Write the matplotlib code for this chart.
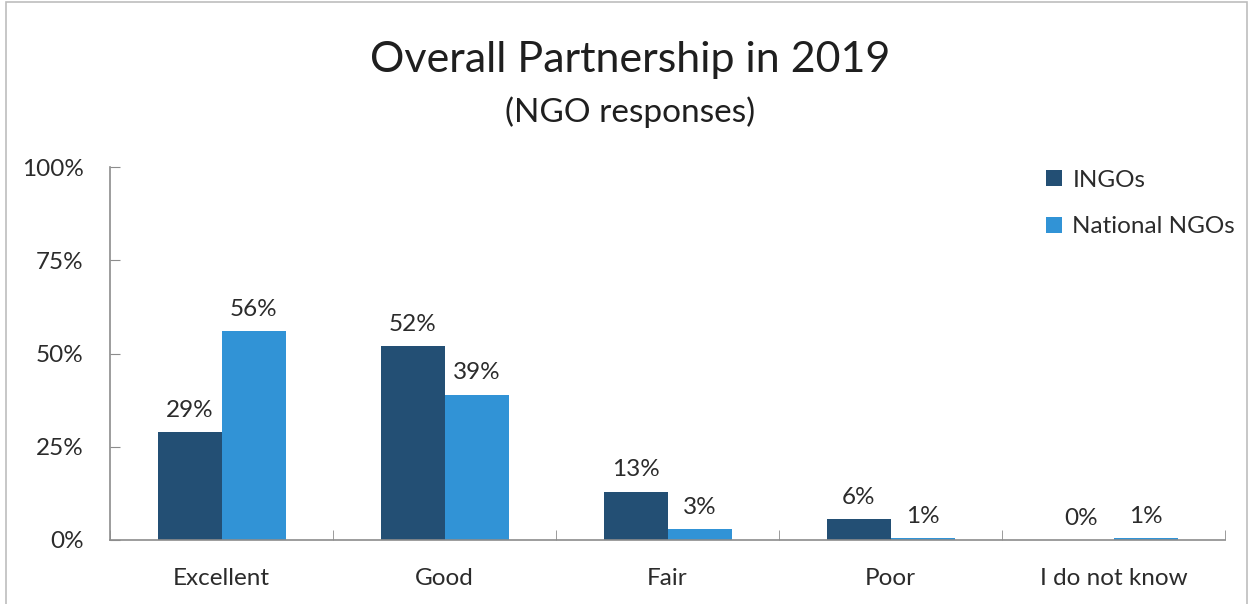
import matplotlib.pyplot as plt
import numpy as np
from matplotlib.patches import Rectangle

plt.rcParams["font.family"] = ["Lato", "DejaVu Sans"]

# data
categories = ["Excellent", "Good", "Fair", "Poor", "I do not know"]
ingo_values = [29, 52, 13, 5.6, 0]
national_values = [56, 39, 3, 0.5, 0.5]
national_labels = ["56%", "39%", "3%", "1%", "1%"]
ingo_labels = ["29%", "52%", "13%", "6%", "0%"]
y_ticks = [0, 25, 50, 75, 100]

DARK = "#234f74"
LIGHT = "#3193d6"
TEXT = "#2b2b2b"
AXIS = "#8c8c8c"

fig = plt.figure(figsize=(12.52, 6.04), dpi=100)
ax = fig.add_axes([110 / 1252, 1 - 540 / 604, 1115 / 1252, 373 / 604])

# figure frame
fig.patches.append(Rectangle((6 / 1252, -0.05), 1241 / 1252, 1.05 - 2 / 604,
                             transform=fig.transFigure, fill=False,
                             edgecolor="#bdbdbd", linewidth=1.2))

x = np.arange(len(categories))
w = 64 / 223
bars_i = ax.bar(x - w / 2, ingo_values, w, color=DARK, label="INGOs")
bars_n = ax.bar(x + w / 2, national_values, w, color=LIGHT, label="National NGOs")

for bars, labels in ((bars_i, ingo_labels), (bars_n, national_labels)):
    for bar, lab in zip(bars, labels):
        ax.annotate(lab, (bar.get_x() + bar.get_width() / 2, bar.get_height()),
                    xytext=(0, 8), textcoords="offset points",
                    ha="center", va="bottom", fontsize=17.5, color=TEXT)

ax.set_xlim(-0.5, len(categories) - 0.5)
ax.set_ylim(0, 100)
ax.set_yticks(y_ticks)
ax.set_yticklabels([f"{t}%" for t in y_ticks])
ax.set_xticks(x)
ax.set_xticklabels(categories)
ax.set_xticks(np.arange(len(categories) + 1) - 0.5, minor=True)

for s in ("top", "right"):
    ax.spines[s].set_visible(False)
for s in ("left", "bottom"):
    ax.spines[s].set_color(AXIS)
    ax.spines[s].set_linewidth(1.2)

ax.tick_params(axis="y", direction="in", length=7, color=AXIS,
               labelsize=17.5, labelcolor=TEXT, pad=19)
ax.tick_params(axis="x", which="major", length=0, labelsize=17.5,
               labelcolor=TEXT, pad=20)
ax.tick_params(axis="x", which="minor", direction="in", length=7, color=AXIS)

leg = ax.legend(loc="upper left", bbox_to_anchor=(1036 / 1252, 1 - 160 / 604),
                bbox_transform=fig.transFigure, frameon=False, fontsize=17.5,
                handlelength=0.65, handleheight=0.65, handletextpad=0.45,
                labelspacing=1.05, borderaxespad=0)
for t in leg.get_texts():
    t.set_color(TEXT)

fig.text(0.503, 1 - 60 / 604, "Overall Partnership in 2019", ha="center",
         va="center", fontsize=31, color="#1f1f1f")
fig.text(0.503, 1 - 112 / 604, "(NGO responses)", ha="center", va="center",
         fontsize=24, color="#1f1f1f")

fig.savefig("out.png", dpi=100)
